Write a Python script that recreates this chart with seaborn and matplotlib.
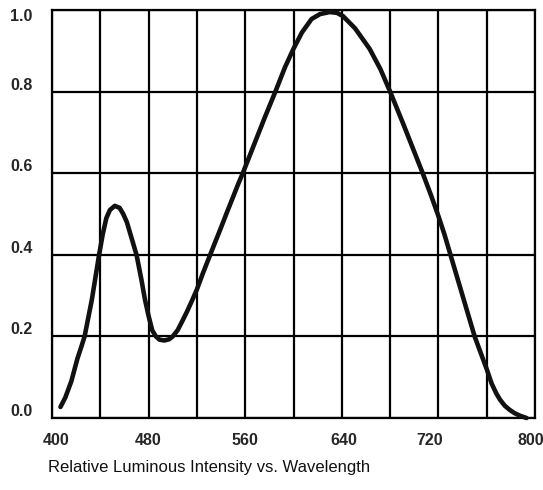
import matplotlib
matplotlib.use("Agg")
import matplotlib.pyplot as plt
import matplotlib.transforms as mtransforms
import seaborn as sns

# spectrum (nm, relative intensity)
wavelength = [407, 411, 416, 421, 424, 427, 430, 433, 436, 439, 442, 445, 448, 452,
              456, 459, 462, 466, 470, 474, 477, 480, 483, 486, 489, 493, 497, 500,
              504, 508, 512, 516, 520, 525, 531, 535, 540, 545, 550, 554, 558, 568,
              576, 585, 593, 600, 607, 615, 622, 630, 636, 641, 651, 663, 672, 680,
              691, 699, 707, 714, 720, 725, 730, 735, 740, 745, 750, 755, 760, 764,
              768, 771, 775, 779, 783, 788, 793]
intensity = [0.027, 0.05, 0.09, 0.145, 0.172, 0.20, 0.245, 0.29, 0.345, 0.40, 0.45, 0.49, 0.51, 0.52,
             0.515, 0.50, 0.48, 0.44, 0.40, 0.34, 0.29, 0.25, 0.215, 0.20, 0.192, 0.19, 0.193, 0.20,
             0.215, 0.238, 0.262, 0.288, 0.315, 0.355, 0.40, 0.43, 0.467, 0.505, 0.542, 0.572, 0.60, 0.675,
             0.735, 0.80, 0.86, 0.905, 0.945, 0.978, 0.99, 0.995, 0.993, 0.985, 0.955, 0.905, 0.855, 0.80,
             0.72, 0.66, 0.60, 0.545, 0.495, 0.45, 0.40, 0.35, 0.30, 0.25, 0.20, 0.16, 0.12, 0.085,
             0.06, 0.045, 0.03, 0.02, 0.012, 0.005, 0.0]

x_grid = [400, 440, 480, 520, 560, 600, 640, 680, 720, 760, 800]
x_labeled = [400, 480, 560, 640, 720, 800]
y_ticks = [0.0, 0.2, 0.4, 0.6, 0.8, 1.0]
y_labels = ['0.0', '0.2', '0.4', '0.6', '0.8', '1.0']
caption = 'Relative Luminous Intensity vs. Wavelength'

sns.set_style('white')
plt.rcParams['font.family'] = ['Liberation Sans', 'DejaVu Sans']

fig, ax = plt.subplots(figsize=(5.43, 4.90), dpi=100)
fig.subplots_adjust(left=52/543, right=535/543, top=1 - 10/490, bottom=1 - 418/490)

# the curve
sns.lineplot(x=wavelength, y=intensity, ax=ax, color='#111111', linewidth=3.3,
             clip_on=False, zorder=3, solid_joinstyle='round', solid_capstyle='round')

ax.set_xlim(400, 800)
ax.set_ylim(0, 1.0)
ax.set_xticks(x_grid)
ax.set_xticklabels([str(v) if v in x_labeled else '' for v in x_grid])
ax.set_yticks(y_ticks)
ax.set_yticklabels(y_labels)
ax.grid(True, color='black', linewidth=1.6)
ax.set_axisbelow(True)
for s in ax.spines.values():
    s.set_visible(True)
    s.set_color('black')
    s.set_linewidth(1.6)

ax.tick_params(axis='x', length=0, labelsize=11.5, pad=11)
ax.tick_params(axis='y', length=0, labelsize=11.5, pad=14)

# nudge labels the way the original sheet has them
x_shift = {'400': 4, '640': 2, '720': -9, '800': -4}
for lab in ax.get_xticklabels():
    lab.set_fontweight('bold')
    dx = x_shift.get(lab.get_text(), 0)
    lab.set_transform(lab.get_transform() + mtransforms.ScaledTranslation(dx/100, 0, fig.dpi_scale_trans))
for lab in ax.get_yticklabels():
    lab.set_fontweight('bold')
    dy = -5 if lab.get_text() == '1.0' else 8
    lab.set_transform(lab.get_transform() + mtransforms.ScaledTranslation(0, dy/100, fig.dpi_scale_trans))

ax.set_xlabel('')
ax.set_ylabel('')

fig.text(48/543, 1 - 467/490, caption, ha='left', va='center', fontsize=12, color='#111111')

fig.savefig('out.png', dpi=100)
